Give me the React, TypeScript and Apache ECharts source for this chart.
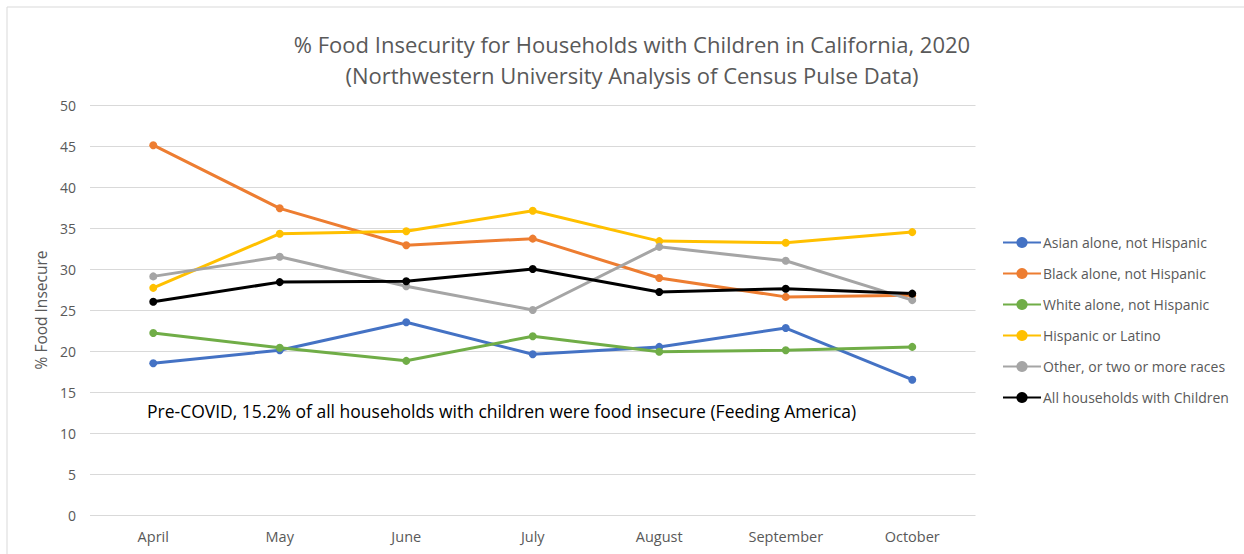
import React, { useEffect, useRef } from "react";
import * as echarts from "echarts";

const months = ["April", "May", "June", "July", "August", "September", "October"];
const asian = [18.5, 20.1, 23.5, 19.6, 20.5, 22.8, 16.5];
const black = [45.1, 37.4, 32.9, 33.7, 28.9, 26.6, 26.8];
const white = [22.2, 20.4, 18.8, 21.8, 19.9, 20.1, 20.5];
const hispanic = [27.7, 34.3, 34.6, 37.1, 33.4, 33.2, 34.5];
const other = [29.1, 31.5, 27.9, 25.0, 32.7, 31.0, 26.2];
const allHouseholds = [26.0, 28.4, 28.5, 30.0, 27.2, 27.6, 27.0];

const seriesNames = [
  "Asian alone, not Hispanic",
  "Black alone, not Hispanic",
  "White alone, not Hispanic",
  "Hispanic or Latino",
  "Other, or two or more races",
  "All households with Children",
];
const seriesData = [asian, black, white, hispanic, other, allHouseholds];
const seriesColors = ["#4472C4", "#ED7D31", "#70AD47", "#FFC000", "#A5A5A5", "#000000"];

const titleText = "% Food Insecurity for Households with Children in California, 2020\n(Northwestern University Analysis of Census Pulse Data)";
const noteText = "Pre-COVID, 15.2% of all households with children were food insecure (Feeding America)";

const FONT = "'Open Sans', sans-serif";

export default function App() {
  const ref = useRef<HTMLDivElement>(null);
  useEffect(() => {
    if (!ref.current) return;
    const chart = echarts.init(ref.current, undefined, { renderer: "svg" });
    chart.setOption({
      animation: false,
      backgroundColor: "#ffffff",
      title: {
        text: titleText,
        left: 627,
        textAlign: "center",
        top: 23,
        textStyle: {
          fontFamily: FONT,
          fontSize: 22,
          fontWeight: "normal",
          color: "#595959",
          lineHeight: 31,
        },
      },
      legend: {
        orient: "vertical",
        left: 997,
        top: 228,
        itemWidth: 38,
        itemHeight: 14,
        itemGap: 12,
        textStyle: { fontFamily: FONT, fontSize: 14, color: "#595959", padding: [0, 0, 0, -3], lineHeight: 19 },
        data: seriesNames,
      },
      grid: { left: 90, right: 268.5, top: 105, bottom: 39 },
      xAxis: {
        type: "category",
        data: months,
        boundaryGap: true,
        axisLine: { show: false },
        axisTick: { show: false },
        axisLabel: { fontFamily: FONT, fontSize: 14.5, color: "#595959", margin: 14 },
      },
      yAxis: {
        type: "value",
        min: 0,
        max: 50,
        interval: 5,
        name: "% Food Insecure",
        nameLocation: "middle",
        nameGap: 38,
        nameTextStyle: { fontFamily: FONT, fontSize: 15.5, color: "#595959" },
        axisLine: { show: false },
        axisTick: { show: false },
        axisLabel: { fontFamily: FONT, fontSize: 14, color: "#595959", margin: 14 },
        splitLine: { lineStyle: { color: "#D9D9D9", width: 1 } },
      },
      graphic: [
        {
          type: "rect",
          shape: { x: 7, y: 7, width: 1400, height: 700 },
          style: { fill: "none", stroke: "#D9D9D9", lineWidth: 1 },
          silent: true,
        },
        {
          type: "text",
          left: 147,
          top: 402,
          style: { text: noteText, fontFamily: FONT, fontSize: 17.5, fill: "#000000" },
        },
      ],
      series: seriesNames.map((name, i) => ({
        name,
        type: "line",
        data: seriesData[i],
        symbol: "circle",
        symbolSize: 8,
        color: seriesColors[i],
        lineStyle: { width: 3, color: seriesColors[i] },
        itemStyle: { color: seriesColors[i] },
      })),
    });
    return () => chart.dispose();
  }, []);
  return (
    <div
      ref={ref}
      style={{ position: "fixed", left: 0, top: 0, width: 1244, height: 554 }}
    />
  );
}
